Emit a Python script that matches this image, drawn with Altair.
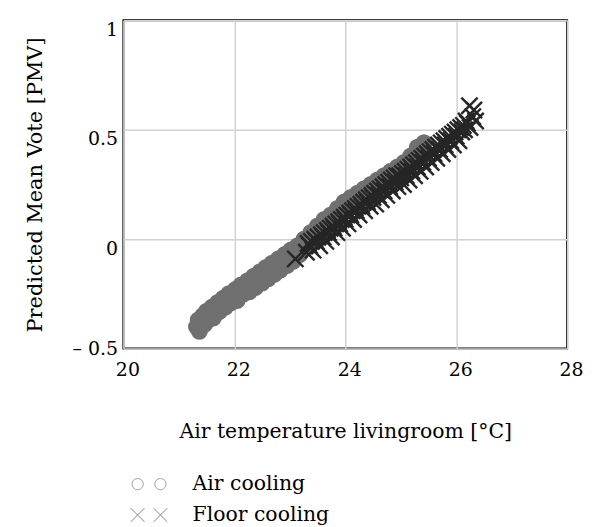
import altair as alt
import pandas as pd

# ---- data ----
series_names = ["Air cooling", "Floor cooling"]
x_ticks = [20, 22, 24, 26, 28]
y_ticks = [-0.5, 0, 0.5, 1]

air_x = [21.32, 21.35, 21.37, 21.40, 21.43, 21.46, 21.50, 21.52, 21.56, 21.60,
         21.62, 21.66, 21.70, 21.73, 21.77, 21.80, 21.84, 21.87, 21.90, 21.94,
         21.98, 22.02, 22.05, 22.09, 22.12, 22.16, 22.20, 22.24, 22.27, 22.31,
         22.35, 22.38, 22.42, 22.46, 22.50, 22.53, 22.57, 22.61, 22.65, 22.68,
         22.72, 22.76, 22.80, 22.83, 22.87, 22.91, 22.95, 22.98, 23.02, 23.06,
         23.10, 23.14, 23.18, 23.22, 23.26, 23.30, 23.34, 23.38, 23.42, 23.46,
         23.50, 23.54, 23.58, 23.62, 23.66, 23.70, 23.74, 23.78, 23.82, 23.86,
         23.90, 23.94, 23.98, 24.02, 24.06, 24.10, 24.14, 24.18, 24.22, 24.26,
         24.30, 24.34, 24.38, 24.42, 24.46, 24.50, 24.54, 24.58, 24.62, 24.66,
         24.70, 24.74, 24.78, 24.82, 24.86, 24.90, 24.94, 24.98, 25.02, 25.06,
         25.10, 25.14, 25.18, 25.22, 25.26, 25.30, 25.34, 25.38, 25.42]
air_y = [-0.40, -0.37, -0.42, -0.38, -0.35, -0.39, -0.33, -0.37, -0.34, -0.31,
         -0.36, -0.32, -0.29, -0.33, -0.30, -0.27, -0.31, -0.28, -0.25, -0.29,
         -0.26, -0.23, -0.28, -0.24, -0.21, -0.25, -0.22, -0.19, -0.24, -0.20,
         -0.17, -0.22, -0.18, -0.15, -0.20, -0.16, -0.13, -0.18, -0.14, -0.11,
         -0.16, -0.12, -0.09, -0.14, -0.10, -0.07, -0.12, -0.08, -0.05, -0.10,
         -0.06, -0.03, -0.07, -0.03, 0.00, -0.04, 0.00, 0.03, -0.01, 0.03,
         0.06, 0.02, 0.05, 0.09, 0.05, 0.08, 0.11, 0.07, 0.10, 0.14,
         0.10, 0.13, 0.17, 0.13, 0.16, 0.19, 0.15, 0.18, 0.21, 0.17,
         0.20, 0.23, 0.19, 0.22, 0.25, 0.21, 0.24, 0.27, 0.23, 0.26,
         0.29, 0.25, 0.28, 0.31, 0.27, 0.30, 0.33, 0.29, 0.32, 0.35,
         0.31, 0.34, 0.38, 0.35, 0.39, 0.42, 0.38, 0.42, 0.44]

# floor cooling: lower run of crosses
floor_x = [23.10, 23.30, 23.36, 23.42, 23.48, 23.54, 23.60, 23.65, 23.70, 23.75,
           23.80, 23.85, 23.90, 23.95, 24.00, 24.05, 24.10, 24.15, 24.20, 24.25,
           24.30, 24.35, 24.40, 24.45, 24.50, 24.55, 24.60, 24.65, 24.70, 24.75,
           24.80, 24.85, 24.90, 24.95, 25.00, 25.05, 25.10, 25.15, 25.20, 25.25,
           25.30, 25.35, 25.40, 25.45, 25.50, 25.55, 25.60, 25.65, 25.70, 25.75,
           25.80, 25.85, 25.90, 25.95, 26.00, 26.05, 26.10, 26.15, 26.20, 26.25,
           26.24, 26.30, 26.35, 26.32]
floor_y = [-0.09, -0.06, -0.03, -0.05, -0.01, -0.03, 0.01, -0.01, 0.03, 0.01,
           0.05, 0.03, 0.07, 0.05, 0.09, 0.07, 0.11, 0.09, 0.13, 0.11,
           0.15, 0.13, 0.17, 0.15, 0.19, 0.16, 0.20, 0.18, 0.22, 0.20,
           0.24, 0.22, 0.26, 0.24, 0.28, 0.25, 0.29, 0.27, 0.31, 0.29,
           0.33, 0.31, 0.35, 0.33, 0.37, 0.35, 0.39, 0.37, 0.41, 0.39,
           0.43, 0.41, 0.45, 0.43, 0.47, 0.45, 0.49, 0.50, 0.53, 0.51,
           0.61, 0.56, 0.54, 0.59]
# floor cooling: upper run of crosses
floor_x2 = [23.33, 23.39, 23.45, 23.51, 23.57, 23.62, 23.68, 23.73, 23.78, 23.83,
            23.88, 23.93, 23.98, 24.03, 24.08, 24.13, 24.18, 24.23, 24.28, 24.33,
            24.38, 24.43, 24.48, 24.53, 24.58, 24.63, 24.68, 24.73, 24.78, 24.83,
            24.88, 24.93, 24.98, 25.03, 25.08, 25.13, 25.18, 25.23, 25.28, 25.33,
            25.38, 25.43, 25.48, 25.53, 25.58, 25.63, 25.68, 25.73, 25.78, 25.83,
            25.88, 25.93, 25.98, 26.03, 26.08, 26.13, 26.18]
floor_y2 = [-0.02, -0.01, 0.00, 0.01, 0.02, 0.03, 0.04, 0.05, 0.06, 0.07,
            0.08, 0.09, 0.10, 0.11, 0.12, 0.13, 0.14, 0.15, 0.16, 0.17,
            0.18, 0.19, 0.20, 0.21, 0.22, 0.23, 0.24, 0.25, 0.26, 0.27,
            0.28, 0.29, 0.29, 0.30, 0.31, 0.32, 0.33, 0.34, 0.35, 0.36,
            0.37, 0.38, 0.39, 0.40, 0.41, 0.42, 0.43, 0.44, 0.45, 0.46,
            0.47, 0.48, 0.49, 0.50, 0.51, 0.52, 0.54]

# ---- table ----
rows = []
for xv, yv in zip(air_x, air_y):
    rows.append({"x": xv, "y": yv, "series": series_names[0]})
for xv, yv in zip(floor_x2, floor_y2):
    rows.append({"x": xv, "y": yv, "series": series_names[1]})
for xv, yv in zip(floor_x, floor_y):
    rows.append({"x": xv, "y": yv, "series": series_names[1]})
df = pd.DataFrame(rows)
df["idx"] = range(len(df))

FONT = "DejaVu Serif"
CIRCLE = "M -1 0 A 1 1 0 1 0 1 0 A 1 1 0 1 0 -1 0 Z"
XMARK = "M -1.1 -1.1 L 1.1 1.1 M 1.1 -1.1 L -1.1 1.1"
CIRCLE2 = ("M -5.03 0 A 1 1 0 1 0 -3.03 0 A 1 1 0 1 0 -5.03 0 "
           "M -1 0 A 1 1 0 1 0 1 0 A 1 1 0 1 0 -1 0")
XMARK2 = ("M -5.23 -1.2 L -2.83 1.2 M -2.83 -1.2 L -5.23 1.2 "
          "M -1.2 -1.2 L 1.2 1.2 M 1.2 -1.2 L -1.2 1.2")

y_label_expr = "datum.value == -0.5 ? '\u2013 0.5' : format(datum.value, '~g')"

gray_air = "#707070"
dark_floor = "#262626"
series_scale = alt.Scale(domain=series_names, range=[gray_air, dark_floor])

points = alt.Chart(df).mark_point(filled=True, size=220, strokeWidth=2.4, opacity=1).encode(
    x=alt.X("x:Q",
            scale=alt.Scale(domain=[20, 28], nice=False, zero=False),
            axis=alt.Axis(values=x_ticks, grid=True, ticks=False, domain=False,
                          labelFontSize=19, labelBaseline="top", labelPadding=12,
                          labelOffset=4, labelFlush=False,
                          title="Air temperature livingroom [°C]",
                          titleFontSize=20.5, titlePadding=42)),
    y=alt.Y("y:Q",
            scale=alt.Scale(domain=[-0.5, 1], nice=False, zero=False),
            axis=alt.Axis(values=y_ticks, grid=True, ticks=False, domain=False,
                          labelFontSize=19, labelPadding=6, labelFlush=False,
                          labelExpr=y_label_expr,
                          labelBaseline={"condition": {"test": "datum.value == -0.5", "value": "middle"},
                                         "value": "top"},
                          title="Predicted Mean Vote [PMV]",
                          titleFontSize=21, titlePadding=27)),
    shape=alt.Shape("series:N", scale=alt.Scale(domain=series_names, range=[CIRCLE, XMARK]), legend=None),
    fill=alt.Fill("series:N", scale=series_scale, legend=None),
    stroke=alt.Stroke("series:N", scale=series_scale, legend=None),
    order=alt.Order("idx:Q"),
)

leg = alt.Legend(title=None, orient="none", legendX=27, legendY=456, padding=0,
                 labelFont=FONT, labelFontSize=20.5, labelColor="black", labelOffset=22,
                 rowPadding=10, symbolSize=130, symbolStrokeWidth=1)

legend_layer = alt.Chart(df).transform_filter("false").mark_point(
    filled=False, size=130, strokeWidth=1).encode(
    shape=alt.Shape("series:N", scale=alt.Scale(domain=series_names, range=[CIRCLE2, XMARK2]), legend=leg),
    color=alt.Color("series:N", scale=alt.Scale(domain=series_names, range=["#7a7a7a", "#555555"]), legend=leg),
)

chart = alt.layer(points, legend_layer).resolve_scale(
    shape="independent", color="independent", fill="independent", stroke="independent"
).resolve_legend(
    shape="independent", color="independent", fill="independent", stroke="independent"
).properties(
    width=446, height=330,
    autosize=alt.AutoSizeParams(type="none"),
    padding={"left": 116, "top": 11, "right": 20, "bottom": 190},
).configure_view(
    stroke="black", strokeWidth=2
).configure_axis(
    labelFont=FONT, titleFont=FONT, labelColor="black", titleColor="black",
    titleFontWeight="normal", gridColor="#d2d2d2", gridWidth=1.5,
)

chart.save("out.html", embed_options={"renderer": "svg", "actions": False})
